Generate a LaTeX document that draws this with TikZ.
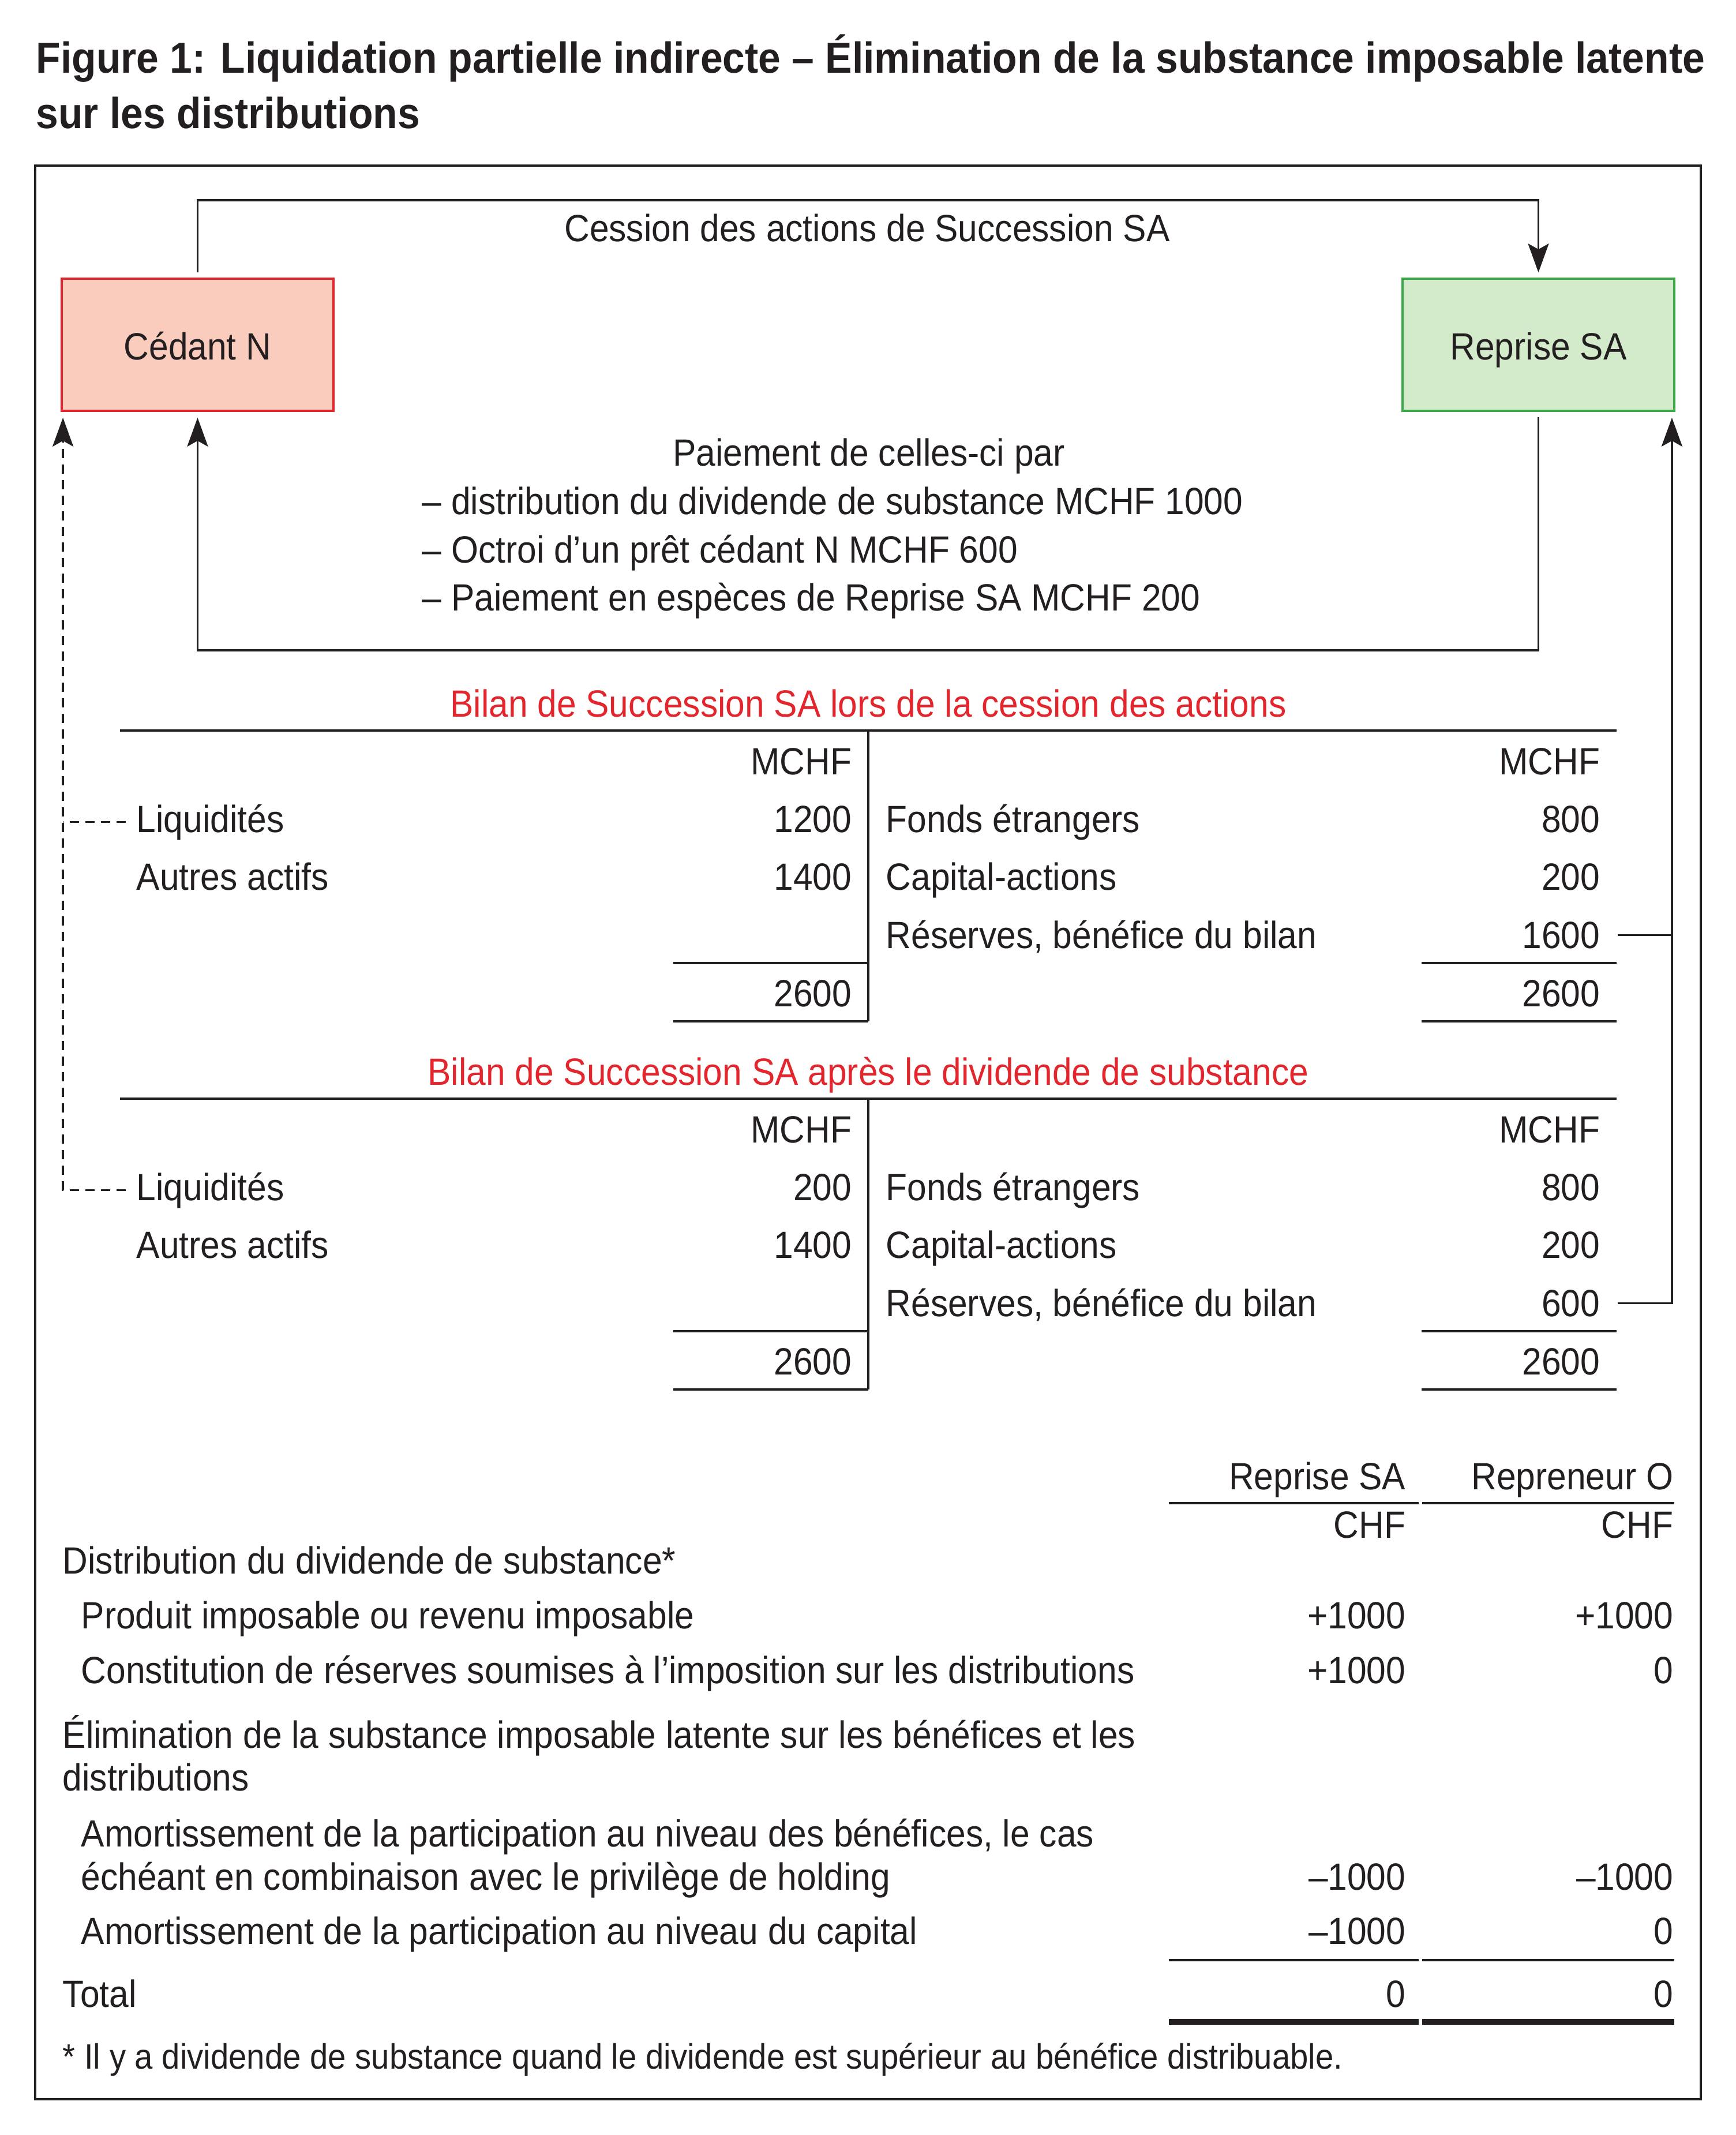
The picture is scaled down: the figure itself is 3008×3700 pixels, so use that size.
\documentclass[tikz,border=0pt]{standalone}
\usepackage{fontspec}
\setmainfont[FakeStretch=0.92]{Liberation Sans}
\newfontfamily\titrefont[FakeStretch=0.925]{Liberation Sans}
\usetikzlibrary{arrows.meta,positioning}
\definecolor{texte}{HTML}{231F20}
\definecolor{rougeb}{HTML}{E3262D}
\definecolor{rosefond}{HTML}{F9CCBE}
\definecolor{vertb}{HTML}{3DAA4A}
\definecolor{vertfond}{HTML}{D3EACB}
\tikzset{
  boite/.style={draw, line width=1pt, minimum width=4.71cm, minimum height=2.29cm, inner sep=0pt,
    text height=0.65cm, text depth=0.14cm},
  lbl/.style={inner sep=0pt, anchor=base west},
  num/.style={inner sep=0pt, anchor=base east},
  ctr/.style={inner sep=0pt, anchor=base},
  titrebilan/.style={ctr, text=rougeb},
  pointille/.style={dash pattern=on 0.16cm off 0.11cm},
}
\begin{document}
\begin{tikzpicture}[x=0.01cm, y=-0.01cm, line width=1pt, color=texte, font=\fontsize{18.7}{22}\selectfont, >={Stealth[length=0.5cm,width=0.36cm,inset=0.1cm]}]
\useasboundingbox (0,0) rectangle (3008,3700);
% Titre et cadre
\node[lbl, font=\titrefont\fontsize{21.4}{26}\bfseries] (titre1) at (61,127) {Figure 1: Liquidation partielle indirecte – Élimination de la substance imposable latente};
\node[lbl, font=\titrefont\fontsize{21.4}{26}\bfseries] (titre2) at (61,223) {sur les distributions};
\draw (61,287) rectangle (2948,3638);
% Cédant et repreneur
\node[boite, fill=rosefond, draw=rougeb] (ced) at (342.5,597.5) {Cédant N};
\node[boite, fill=vertfond, draw=vertb] (rep) at (2666.5,597.5) {Reprise SA};
\draw[->, shorten <=0.09cm, shorten >=0.09cm] (ced.north) -- ++(0,-134) -| (rep.north);
\node[ctr] (cession) at (1503,419) {Cession des actions de Succession SA};
\draw[->, shorten <=0.09cm, shorten >=0.1cm] (rep.south) -- ++(0,413) -| (ced.south);
\node[ctr] (paie) at (1506,807) {Paiement de celles-ci par};
\foreach \y/\t/\n in {891/{distribution du dividende de substance MCHF 1000}/1,
                      975/{Octroi d’un prêt cédant N MCHF 600}/2,
                      1058/{Paiement en espèces de Reprise SA MCHF 200}/3}
  \node[lbl] (paie\n) at (730,\y) {– \t};
% Bilans
\foreach \dy/\n/\ttl/\liq/\res in {0/a/{lors de la cession des actions}/1200/1600,
                                   638/b/{après le dividende de substance}/200/600}{
  \node[titrebilan] (bil\n) at (1505,1242+\dy) {Bilan de Succession SA \ttl};
  \draw (208,1266+\dy) -- (2802,1266+\dy);
  \draw (1505,1266+\dy) -- (1505,1770+\dy);
  \draw (1167,1669+\dy) -- (1505,1669+\dy) (1167,1770+\dy) -- (1505,1770+\dy);
  \draw (2464,1669+\dy) -- (2802,1669+\dy) (2464,1770+\dy) -- (2802,1770+\dy);
  \node[num] (mchfg\n) at (1478,1342+\dy) {MCHF};
  \node[num] (mchfd\n) at (2775,1342+\dy) {MCHF};
  \node[lbl] (liq\n) at (235,1442+\dy) {Liquidités};
  \node[num] (liqv\n) at (1478,1442+\dy) {\liq};
  \node[lbl] (aut\n) at (235,1542+\dy) {Autres actifs};
  \node[num] (autv\n) at (1478,1542+\dy) {1400};
  \node[num] (totg\n) at (1478,1744+\dy) {2600};
  \node[lbl] (fe\n) at (1534,1442+\dy) {Fonds étrangers};
  \node[num] (fev\n) at (2775,1442+\dy) {800};
  \node[lbl] (ca\n) at (1534,1542+\dy) {Capital-actions};
  \node[num] (cav\n) at (2775,1542+\dy) {200};
  \node[lbl] (res\n) at (1534,1643+\dy) {Réserves, bénéfice du bilan};
  \node[num] (resv\n) at (2775,1643+\dy) {\res};
  \node[num] (totd\n) at (2775,1744+\dy) {2600};
}
% Liens vers les bilans
\coordinate (flecheG) at ([xshift=0.04cm]ced.south west);
\coordinate (flecheD) at ([xshift=-0.06cm]rep.south east);
\draw[pointille, ->, shorten <=0.17cm, shorten >=0.1cm] (liqb.west) -| (flecheG);
\draw[pointille, shorten <=0.17cm] (liqa.west) -- (liqa.west -| flecheG);
\draw[->, shorten <=0.29cm, shorten >=0.1cm] (resvb.east) -| (flecheD);
\draw[shorten <=0.29cm] (resva.east) -- (resva.east -| flecheD);
% Tableau fiscal
\node[num] (colA) at (2438,2581) {Reprise SA};
\node[num] (colB) at (2902,2581) {Repreneur O};
\draw (2026,2605) -- (2459,2605) (2465,2605) -- (2902,2605);
\node[num] (chfA) at (2438,2665) {CHF};
\node[num] (chfB) at (2902,2665) {CHF};
\node[lbl] (dist) at (107,2727) {Distribution du dividende de substance*};
\node[lbl] (prod) at (139,2822) {Produit imposable ou revenu imposable};
\node[lbl] (const) at (139,2917) {Constitution de réserves soumises à l’imposition sur les distributions};
\node[lbl] (elim) at (107,3029) {Élimination de la substance imposable latente sur les bénéfices et les};
\node[lbl] (elim2) at (107,3103) {distributions};
\node[lbl] (amo) at (139,3200) {Amortissement de la participation au niveau des bénéfices, le cas};
\node[lbl] (amo2) at (139,3275) {échéant en combinaison avec le privilège de holding};
\node[lbl] (amoc) at (139,3369) {Amortissement de la participation au niveau du capital};
\node[lbl] (total) at (107,3478) {Total};
\foreach \y/\a/\b/\n in {2822/+1000/+1000/prod, 2917/+1000/0/const, 3275/–1000/–1000/amo,
                         3369/–1000/0/amoc, 3478/0/0/total}{
  \node[num] (\n A) at (2438,\y) {\a};
  \node[num] (\n B) at (2902,\y) {\b};
}
\draw (2026,3397) -- (2459,3397) (2465,3397) -- (2902,3397);
\draw[line width=2.6pt] (2026,3504) -- (2459,3504) (2465,3504) -- (2902,3504);
\node[lbl, font=\fontsize{17.4}{20}\selectfont] (note) at (107,3585) {* Il y a dividende de substance quand le dividende est supérieur au bénéfice distribuable.};
\end{tikzpicture}
\end{document}
